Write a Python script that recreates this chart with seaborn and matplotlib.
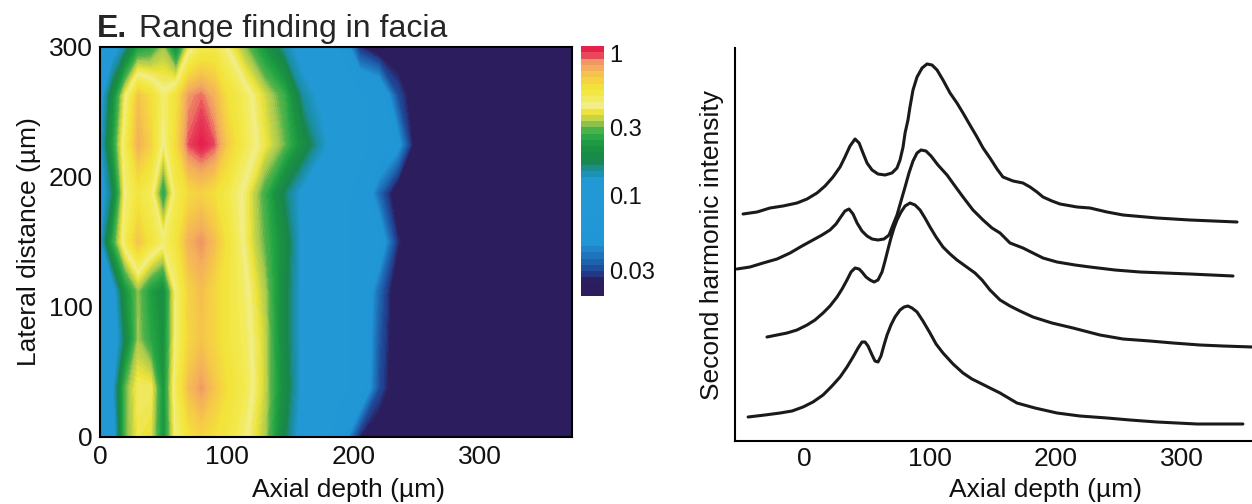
import numpy as np
import matplotlib
matplotlib.use("Agg")
import matplotlib.pyplot as plt
import matplotlib.cm as cm
import seaborn as sns
from matplotlib.colors import LinearSegmentedColormap, BoundaryNorm

# ---- left panel: SHG range finding map (intensity, log colour scale) ----
axial_grid = [0, 10, 20, 30, 40, 50, 60, 70, 80, 90, 100, 115, 130, 145,
              160, 175, 190, 205, 220, 235, 250, 373]
lateral_grid = [0, 37.5, 75, 112.5, 150, 187.5, 225, 262.5, 300]

lat_000 = [0.09, 0.10, 0.30, 0.40, 0.38, 0.22, 0.45, 0.58, 0.64, 0.60, 0.55, 0.45, 0.34, 0.18, 0.11, 0.09, 0.06, 0.025, 0.02, 0.02, 0.02, 0.02]
lat_037 = [0.09, 0.12, 0.30, 0.42, 0.42, 0.22, 0.50, 0.75, 0.88, 0.72, 0.60, 0.50, 0.36, 0.20, 0.12, 0.10, 0.08, 0.07, 0.03, 0.02, 0.02, 0.02]
lat_075 = [0.09, 0.10, 0.18, 0.33, 0.26, 0.21, 0.45, 0.64, 0.72, 0.64, 0.56, 0.48, 0.36, 0.19, 0.12, 0.10, 0.08, 0.07, 0.032, 0.02, 0.02, 0.02]
lat_112 = [0.09, 0.11, 0.22, 0.32, 0.24, 0.20, 0.45, 0.66, 0.74, 0.64, 0.56, 0.46, 0.34, 0.19, 0.12, 0.10, 0.08, 0.07, 0.035, 0.02, 0.02, 0.02]
lat_150 = [0.12, 0.26, 0.50, 0.72, 0.56, 0.46, 0.56, 0.80, 0.90, 0.75, 0.58, 0.42, 0.30, 0.20, 0.12, 0.10, 0.08, 0.07, 0.06, 0.026, 0.02, 0.02]
lat_187 = [0.11, 0.17, 0.45, 0.55, 0.48, 0.25, 0.50, 0.62, 0.66, 0.60, 0.52, 0.42, 0.28, 0.17, 0.12, 0.10, 0.08, 0.07, 0.035, 0.02, 0.02, 0.02]
lat_225 = [0.12, 0.24, 0.50, 0.80, 0.66, 0.42, 0.62, 1.00, 1.12, 1.00, 0.70, 0.50, 0.40, 0.31, 0.20, 0.14, 0.10, 0.08, 0.07, 0.05, 0.02, 0.02]
lat_262 = [0.11, 0.20, 0.42, 0.72, 0.60, 0.46, 0.58, 0.88, 0.96, 0.80, 0.60, 0.48, 0.37, 0.28, 0.15, 0.12, 0.10, 0.08, 0.07, 0.03, 0.02, 0.02]
lat_300 = [0.09, 0.11, 0.15, 0.24, 0.26, 0.33, 0.20, 0.40, 0.50, 0.52, 0.44, 0.32, 0.22, 0.15, 0.11, 0.09, 0.07, 0.026, 0.02, 0.02, 0.02, 0.02]

cbar_ticks = [1, 0.3, 0.1, 0.03]
cbar_labels = ["1", "0.3", "0.1", "0.03"]

# ---- right panel: depth profiles of second harmonic intensity ----
trace1_x = [-48.4, -37.3, -27.0, -16.7, -5.6, 2.4, 10.3, 16.7, 23.0, 28.6, 32.5, 36.5, 40.5, 43.7, 46.8, 50.0,
            54.0, 58.7, 64.3, 69.8, 73.8, 76.2, 78.6, 80.2, 82.5, 84.1, 86.5, 89.7, 93.7, 97.6, 101.6, 105.6,
            110.3, 115.9, 121.4, 126.2, 131.7, 137.3, 142.1, 147.6, 153.2, 157.9, 165.9, 173.8, 179.4, 184.9,
            189.7, 196.8, 203.2, 216.7, 227.0, 240.5, 253.2, 280.2, 306.3, 343.7]
trace1_y = [22.7, 22.9, 23.3, 23.5, 23.8, 24.2, 24.8, 25.5, 26.4, 27.4, 28.4, 29.5, 30.2, 29.8, 28.8, 27.8,
            27.1, 26.7, 26.6, 26.8, 27.3, 28.1, 29.4, 30.8, 32.1, 33.4, 35.1, 36.4, 37.3, 37.7, 37.6, 37.1,
            36.1, 34.8, 33.8, 32.8, 31.6, 30.4, 29.3, 28.3, 27.2, 26.4, 26.0, 25.8, 25.4, 24.9,
            24.4, 24.0, 23.7, 23.4, 23.3, 22.9, 22.6, 22.3, 22.1, 21.9]

trace2_x = [-53.2, -42.9, -32.5, -21.4, -11.1, -1.6, 7.1, 14.3, 20.6, 25.4, 28.6, 32.5, 35.7, 38.9, 42.1, 46.0,
            50.0, 54.0, 58.7, 63.5, 67.5, 70.6, 73.8, 77.0, 80.2, 83.3, 86.5, 89.7, 92.9, 96.8, 100.8, 106.3,
            113.5, 119.8, 126.2, 134.1, 142.1, 149.2, 155.6, 163.5, 173.8, 181.7, 189.7, 200.8, 215.1, 227.0,
            246.8, 266.7, 286.5, 306.3, 340.5]
trace2_y = [17.2, 17.4, 17.8, 18.2, 18.8, 19.5, 20.1, 20.6, 21.1, 21.7, 22.3, 23.0, 23.2, 22.7, 21.8, 21.0,
            20.5, 20.2, 20.1, 20.2, 20.6, 21.6, 22.6, 24.0, 25.4, 26.8, 28.0, 28.8, 29.1, 29.0, 28.5, 27.6,
            26.6, 25.5, 24.4, 23.1, 22.1, 21.3, 20.8, 19.8, 19.3, 18.8, 18.3, 17.9, 17.6, 17.4,
            17.1, 16.9, 16.8, 16.7, 16.5]

trace3_x = [-29.4, -21.4, -13.5, -5.6, 2.4, 8.7, 15.1, 20.6, 26.2, 30.2, 34.1, 37.3, 40.5, 43.7, 46.0, 49.2,
            52.4, 55.6, 58.7, 61.9, 64.3, 66.7, 69.0, 71.4, 73.8, 77.0, 80.2, 84.1, 88.1, 92.1, 96.0, 100.0,
            104.8, 110.3, 115.9, 121.4, 130.2, 135.7, 141.3, 147.6, 155.6, 163.5, 171.4, 181.7, 196.8, 213.5,
            234.9, 253.2, 274.6, 292.9, 314.3, 332.5, 356.0]
trace3_y = [10.4, 10.6, 10.8, 11.1, 11.6, 12.1, 12.8, 13.5, 14.4, 15.2, 16.1, 16.9, 17.3, 17.2, 16.9, 16.4,
            16.1, 15.9, 16.1, 16.9, 18.0, 19.2, 20.3, 21.3, 22.1, 22.9, 23.5, 23.8, 23.6, 23.1, 22.3, 21.4,
            20.4, 19.4, 18.7, 18.1, 17.3, 16.8, 16.1, 15.1, 14.1, 13.5, 13.0, 12.4, 11.8, 11.3,
            10.6, 10.2, 10.0, 9.8, 9.6, 9.5, 9.4]

trace4_x = [-44.4, -31.0, -19.0, -9.5, -0.8, 7.1, 15.1, 22.2, 28.6, 34.1, 38.9, 42.9, 46.0, 48.4, 50.8, 54.0,
            56.3, 58.7, 61.1, 63.5, 65.9, 69.0, 72.2, 76.2, 79.4, 82.5, 85.7, 89.7, 94.4, 100.0, 104.8, 110.3,
            118.3, 126.2, 133.3, 139.7, 147.6, 155.6, 169.0, 183.3, 200.8, 219.0, 240.5, 258.7, 280.2, 311.9, 348.4]
trace4_y = [2.4, 2.6, 2.8, 3.0, 3.4, 3.9, 4.6, 5.5, 6.4, 7.4, 8.4, 9.3, 9.9, 9.9, 9.5, 8.6,
            8.0, 7.9, 8.5, 9.6, 10.6, 11.6, 12.4, 13.1, 13.4, 13.5, 13.3, 12.9, 12.0, 10.8, 9.7, 8.8,
            7.7, 6.8, 6.2, 5.8, 5.3, 4.8, 3.8, 3.3, 2.8, 2.5, 2.3, 2.1, 1.9, 1.7, 1.7]

sns.set_theme(style="white")
plt.rcParams["font.family"] = ["Liberation Sans", "DejaVu Sans"]

# colour map roughly like the figure's rainbow scale
cmap = LinearSegmentedColormap.from_list("facia", [
    (0.00, "#2c1e5e"), (0.05, "#2c1e5e"), (0.08, "#203e8e"), (0.14, "#1d6cb5"),
    (0.20, "#2196d6"), (0.46, "#2299d4"), (0.50, "#1b8fa6"), (0.54, "#19864e"),
    (0.59, "#1a9140"), (0.63, "#22a443"), (0.67, "#4fb24a"), (0.70, "#a8c94f"),
    (0.74, "#ece43a"), (0.77, "#f2ee8a"), (0.80, "#f3ea50"), (0.84, "#f3e33a"),
    (0.88, "#f5cc46"), (0.92, "#f4b05a"), (0.95, "#ef9266"), (0.975, "#e8405a"),
    (1.00, "#e6214c")])

fig = plt.figure(figsize=(12.52, 5.04), dpi=100)

# left: contour map
ax1 = fig.add_axes([100 / 1252, 67 / 504, 472 / 1252, 390 / 504])
grid = np.log10(np.array([lat_000, lat_037, lat_075, lat_112, lat_150,
                          lat_187, lat_225, lat_262, lat_300]))
X, Y = np.meshgrid(axial_grid, lateral_grid)
lo, hi = -1.70, 0.05
cs = ax1.contourf(X, Y, grid, levels=np.linspace(lo, hi, 141), cmap=cmap,
                  antialiased=False)
ax1.set_xlim(0, 372.5)
ax1.set_ylim(0, 300)
ax1.set_xticks([0, 100, 200, 300])
ax1.set_yticks([0, 100, 200, 300])
ax1.tick_params(length=0, labelsize=19, colors="#111111")
ax1.tick_params(axis="x", pad=6)
ax1.tick_params(axis="y", pad=5)
for s in ax1.spines.values():
    s.set_color("black")
    s.set_linewidth(1.5)
ax1.set_xlabel("Axial depth (µm)", fontsize=19, color="#111111")
ax1.xaxis.set_label_coords(0.527, -0.105)
ax1.set_ylabel("Lateral distance (µm)", fontsize=19, color="#111111", labelpad=6)

fig.text(97 / 1252, 1 - 37 / 504, "E.", fontsize=23, fontweight="bold", va="baseline")
fig.text(139 / 1252, 1 - 37 / 504, "Range finding in facia", fontsize=23, va="baseline")

# colour bar (stepped, like the original)
cax = fig.add_axes([581 / 1252, 1 - 296 / 504, 23 / 1252, 250 / 504])
step_norm = BoundaryNorm(np.linspace(lo, hi, 41), cmap.N)
cb = fig.colorbar(cm.ScalarMappable(norm=step_norm, cmap=cmap), cax=cax,
                  ticks=np.log10(cbar_ticks))
cb.set_ticklabels(cbar_labels)
cb.minorticks_off()
cb.outline.set_visible(False)
cax.tick_params(which="both", length=0, labelsize=17, pad=4, colors="#111111")

# right: stacked depth profiles
ax2 = fig.add_axes([735 / 1252, 63 / 504, 517 / 1252, 393 / 504])
for tx, ty in [(trace1_x, trace1_y), (trace2_x, trace2_y),
               (trace3_x, trace3_y), (trace4_x, trace4_y)]:
    sns.lineplot(x=tx, y=ty, ax=ax2, color="#1a1a1a", linewidth=2.2,
                 sort=False, estimator=None)
ax2.set_xlim(-54.8, 355.6)
ax2.set_ylim(0, 39.3)
ax2.set_xticks([0, 100, 200, 300])
ax2.set_yticks([])
ax2.tick_params(length=0, labelsize=19, pad=4, colors="#111111")
for side in ["top", "right"]:
    ax2.spines[side].set_visible(False)
for side in ["left", "bottom"]:
    ax2.spines[side].set_color("black")
    ax2.spines[side].set_linewidth(1.5)
ax2.set_xlabel("Axial depth (µm)", fontsize=19, color="#111111")
ax2.xaxis.set_label_coords(0.6, -0.094)
ax2.set_ylabel("Second harmonic intensity", fontsize=19, color="#111111", labelpad=8)

fig.savefig("out.png", dpi=100)
